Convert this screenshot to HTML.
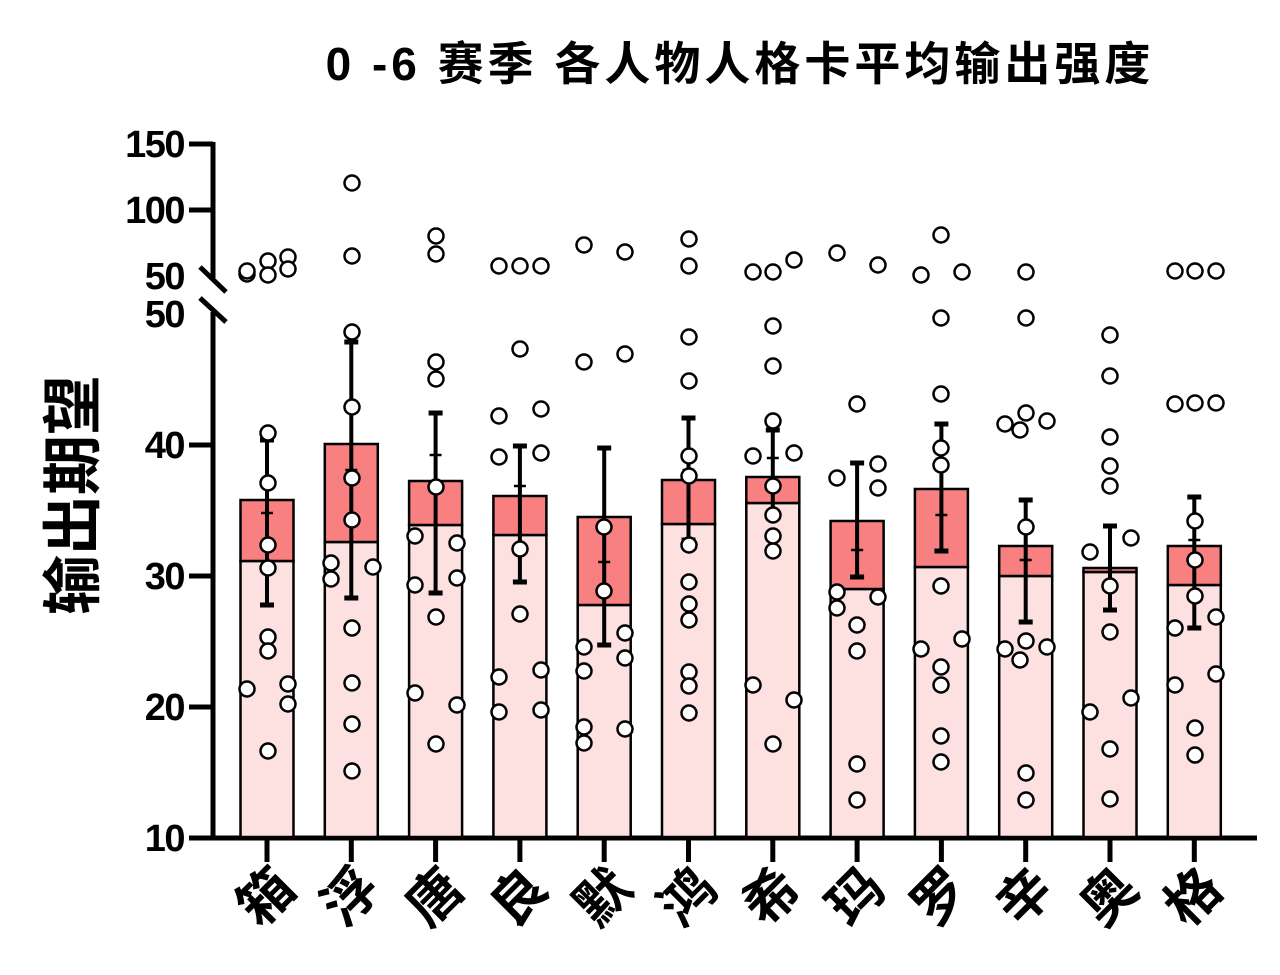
<!DOCTYPE html>
<html><head><meta charset="utf-8"><style>body{margin:0;background:#fff}svg{display:block}</style></head>
<body>
<svg width="1280" height="975" xmlns="http://www.w3.org/2000/svg" font-family="Liberation Sans, Noto Sans CJK SC, sans-serif">
<text x="740" y="80" text-anchor="middle" font-size="46" font-weight="bold" letter-spacing="4">0 -6 赛季 各人物人格卡平均输出强度</text>
<text transform="translate(94,495) rotate(-90)" text-anchor="middle" font-size="60" font-weight="bold">输出期望</text>
<g font-size="38" font-weight="bold" text-anchor="end" letter-spacing="-1.5">
<text x="184" y="157">150</text><text x="184" y="223">100</text><text x="184" y="289">50</text>
<text x="184" y="327">50</text><text x="184" y="458">40</text><text x="184" y="589">30</text>
<text x="184" y="720">20</text><text x="184" y="851">10</text>
</g>
<g stroke="#000" stroke-width="5" fill="none">
<line x1="213" y1="142" x2="213" y2="278"/><line x1="213" y1="312" x2="213" y2="838"/>
<line x1="189" y1="144" x2="213" y2="144"/><line x1="189" y1="210" x2="213" y2="210"/>
<line x1="189" y1="445" x2="213" y2="445"/><line x1="189" y1="576" x2="213" y2="576"/>
<line x1="189" y1="707" x2="213" y2="707"/>
<line x1="200" y1="267" x2="226" y2="292"/><line x1="200" y1="298" x2="226" y2="322"/>
<line x1="189" y1="838" x2="1257" y2="838"/>
</g>
<g id="bars" stroke="#000" stroke-width="2.5"></g>
<g id="err" stroke="#000" stroke-width="4"></g>
<g id="dots" stroke="#000" stroke-width="2.5" fill="#fff"></g>
<g id="xl" font-size="54" font-weight="bold"></g>
<script>
var cx=[],i;for(i=0;i<12;i++)cx.push(267+84.3*i);
var bars=[[500,561],[444,542],[481,525],[496,535],[517,605],[480,524],[477,503],[521,589],[489,567],[546,576],[568,572],[546,585]];
var err=[[440,605,513],[342,598,470],[413,593,455],[446,582,486],[448,645,562],[418,540,470],[430,518,458],[463,577,550],[424,551,515],[500,622,560],[526,610,527],[497,628,540]];
var names="箱浮唐良默鸿希玛罗辛奥格";
var dots=[
[[247,274],[247,271],[268,261],[268,275],[288,257],[288,269],[268,433],[268,483],[268,545],[268,568],[268,637],[268,651],[247,689],[288,684],[288,704],[268,751]],
[[352,183],[352,256],[352,332],[352,407],[352,478],[352,520],[331,563],[331,579],[373,567],[352,628],[352,683],[352,724],[352,771]],
[[436,236],[436,254],[436,362],[436,379],[436,487],[415,536],[457,543],[415,585],[457,578],[436,617],[415,693],[457,705],[436,744]],
[[499,266],[520,266],[541,266],[520,349],[499,416],[541,409],[499,457],[541,453],[520,549],[520,614],[499,677],[541,670],[499,712],[541,710]],
[[584,245],[625,252],[584,362],[625,354],[604,527],[604,591],[584,647],[625,633],[584,671],[625,658],[584,727],[584,743],[625,729]],
[[689,239],[689,266],[689,337],[689,381],[689,456],[689,476],[689,545],[689,582],[689,604],[689,620],[689,672],[689,686],[689,713]],
[[753,272],[773,272],[794,260],[773,326],[773,366],[773,421],[753,456],[794,453],[773,486],[773,515],[773,536],[773,551],[753,685],[794,700],[773,744]],
[[837,253],[878,265],[857,404],[837,478],[878,464],[878,488],[837,592],[837,608],[878,597],[857,625],[857,651],[857,764],[857,800]],
[[921,275],[941,235],[962,272],[941,318],[941,394],[941,448],[941,465],[941,586],[921,649],[962,639],[941,667],[941,685],[941,736],[941,762]],
[[1026,272],[1026,318],[1005,424],[1026,413],[1047,421],[1020,430],[1026,527],[1005,649],[1026,641],[1047,647],[1020,660],[1026,773],[1026,800]],
[[1110,335],[1110,376],[1110,437],[1110,466],[1110,486],[1090,552],[1131,538],[1110,586],[1110,632],[1131,698],[1090,712],[1110,749],[1110,799]],
[[1175,271],[1195,271],[1216,271],[1175,404],[1195,403],[1216,403],[1195,521],[1195,560],[1195,596],[1175,628],[1216,617],[1175,685],[1216,674],[1195,728],[1195,755]]];
var ns="http://www.w3.org/2000/svg";
function el(p,t,a,txt){var e=document.createElementNS(ns,t);for(var k in a)e.setAttribute(k,a[k]);if(txt)e.textContent=txt;document.getElementById(p).appendChild(e);}
for(i=0;i<12;i++){var x=cx[i],b=bars[i];
el("bars","rect",{x:x-26.5,y:b[1],width:53,height:837-b[1],fill:"#fde0e0"});
el("bars","rect",{x:x-26.5,y:b[0],width:53,height:b[1]-b[0],fill:"#f98080"});
el("bars","line",{x1:x,y1:838,x2:x,y2:862,"stroke-width":5});
var e=err[i];el("err","line",{x1:x,y1:e[0],x2:x,y2:e[1]});
el("err","line",{x1:x-7,y1:e[0],x2:x+7,y2:e[0],"stroke-width":5});
el("err","line",{x1:x-7,y1:e[1],x2:x+7,y2:e[1],"stroke-width":5});
el("err","line",{x1:x-6,y1:e[2],x2:x+6,y2:e[2],"stroke-width":2.5});
dots[i].forEach(function(d){el("dots","circle",{cx:d[0],cy:d[1],r:7.5});});
el("xl","text",{transform:"translate("+(x+2)+",900) rotate(-45)","text-anchor":"middle","dominant-baseline":"middle"},names[i]);}
</script>
</svg>
</body></html>
